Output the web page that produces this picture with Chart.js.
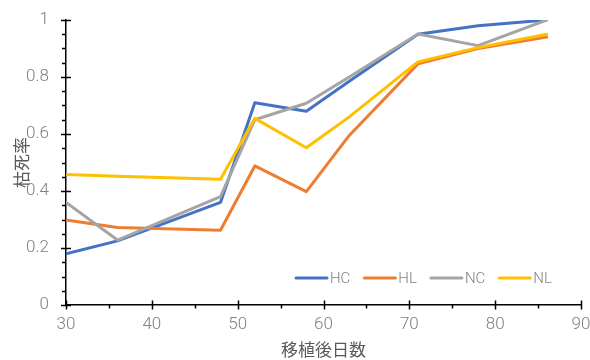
<!DOCTYPE html>
<html>
<head>
<meta charset="utf-8">
<script src="https://cdn.jsdelivr.net/npm/chart.js@4"></script>
<style>
  html, body { margin: 0; padding: 0; background: #fff; }
  #wrap { width: 590px; height: 360px; }
</style>
</head>
<body>
<div id="wrap"><canvas id="chart" width="590" height="360"></canvas></div>
<script>
// days after transplanting, and dead-plant ratio per treatment
const days = [30, 36, 48, 52, 58, 63, 71, 78, 86];
const hcVals = [0.18, 0.225, 0.36, 0.71, 0.68, 0.785, 0.95, 0.98, 1.0];
const hlVals = [0.298, 0.272, 0.262, 0.488, 0.398, 0.595, 0.846, 0.90, 0.94];
const ncVals = [0.36, 0.228, 0.38, 0.65, 0.708, 0.80, 0.951, 0.91, 1.0];
const nlVals = [0.458, 0.452, 0.441, 0.655, 0.552, 0.66, 0.853, 0.903, 0.95];

const seriesNames = ['HC', 'HL', 'NC', 'NL'];
const seriesColors = ['#4472C4', '#ED7D31', '#A5A5A5', '#FFC000'];
const seriesVals = [hcVals, hlVals, ncVals, nlVals];

const xTicks = { min: 30, max: 90, step: 10, minor: 5 };
const yTicks = { min: 0, max: 1, step: 0.2, minor: 0.05 };

const numFont = "Roboto, 'Liberation Sans', sans-serif";
const cjkFont = "'Noto Sans CJK JP', sans-serif";

const toPoints = vals => vals.map((v, i) => ({ x: days[i], y: v }));

// crossing major ticks + outward minor ticks, drawn on top of the axis lines
const axisTicks = {
  id: 'axisTicks',
  afterDraw(chart) {
    const { ctx, chartArea: area, scales: { x, y } } = chart;
    ctx.save();
    ctx.strokeStyle = '#000';
    ctx.lineWidth = 1.5;
    ctx.beginPath();
    for (let v = xTicks.min; v <= xTicks.max + 1e-9; v += xTicks.minor) {
      const px = Math.round(x.getPixelForValue(v)) + 0.5;
      const major = Math.abs(v % xTicks.step) < 1e-9;
      ctx.moveTo(px, area.bottom + (major ? 4.5 : 3.5));
      ctx.lineTo(px, area.bottom - (major ? 4.5 : 0));
    }
    for (let v = yTicks.min; v <= yTicks.max + 1e-9; v += yTicks.minor) {
      const py = Math.round(y.getPixelForValue(v)) + 0.5;
      const r = Math.round(v / yTicks.minor);
      const major = r % Math.round(yTicks.step / yTicks.minor) === 0;
      ctx.moveTo(area.left - (major ? 5 : 4), py);
      ctx.lineTo(area.left + (major ? 5 : 0), py);
    }
    ctx.stroke();
    ctx.restore();
  }
};

// line-sample legend sitting inside the plot, lower right
const innerLegend = {
  id: 'innerLegend',
  afterDraw(chart) {
    const { ctx, chartArea: area } = chart;
    const y = chart.scales.y.getPixelForValue(0.095);
    let x = area.left + 229;
    ctx.save();
    ctx.font = '300 15px ' + numFont;
    ctx.textBaseline = 'middle';
    chart.data.datasets.forEach(ds => {
      ctx.strokeStyle = ds.borderColor;
      ctx.lineWidth = 3;
      ctx.lineCap = 'round';
      ctx.beginPath();
      ctx.moveTo(x + 1, y);
      ctx.lineTo(x + 32, y);
      ctx.stroke();
      x += 35;
      ctx.fillStyle = '#7F7F7F';
      ctx.fillText(ds.label, x, y + 1);
      x += ctx.measureText(ds.label).width + 13;
    });
    ctx.restore();
  }
};

new Chart(document.getElementById('chart'), {
  type: 'line',
  data: {
    datasets: seriesNames.map((name, i) => ({
      label: name,
      data: toPoints(seriesVals[i]),
      borderColor: seriesColors[i],
      backgroundColor: seriesColors[i],
      borderWidth: 3,
      borderJoinStyle: 'round',
      borderCapStyle: 'round',
      pointRadius: 0,
      tension: 0,
      order: seriesNames.length - i
    }))
  },
  options: {
    responsive: false,
    animation: false,
    layout: { padding: { left: 0, top: 20, right: 9, bottom: 0 } },
    plugins: {
      legend: { display: false },
      tooltip: { enabled: false }
    },
    scales: {
      x: {
        type: 'linear',
        min: xTicks.min,
        max: xTicks.max,
        grid: { display: false, drawTicks: false },
        border: { display: true, color: '#000', width: 1.5 },
        ticks: {
          stepSize: xTicks.step,
          padding: 10,
          color: '#7F7F7F',
          font: { family: numFont, size: 17, weight: 300 }
        },
        title: {
          display: true,
          text: '移植後日数',
          color: '#595959',
          padding: { top: 0, bottom: 0 },
          font: { family: cjkFont, size: 17 }
        },
        afterFit(scale) {
          scale.height = 55;
          scale.paddingLeft = 0;
          scale.paddingRight = 0;
        }
      },
      y: {
        min: yTicks.min,
        max: yTicks.max,
        grid: { display: false, drawTicks: false },
        border: { display: true, color: '#000', width: 1.5 },
        ticks: {
          stepSize: yTicks.step,
          padding: 17,
          color: '#7F7F7F',
          font: { family: numFont, size: 17, weight: 300 },
          callback: v => +v.toFixed(1)
        },
        title: {
          display: true,
          text: '枯死率',
          color: '#595959',
          padding: { top: 11, bottom: 0 },
          font: { family: cjkFont, size: 17 }
        },
        afterFit(scale) {
          scale.width = 66;
          scale.paddingTop = 0;
          scale.paddingBottom = 0;
        }
      }
    }
  },
  plugins: [axisTicks, innerLegend]
});
</script>
</body>
</html>
